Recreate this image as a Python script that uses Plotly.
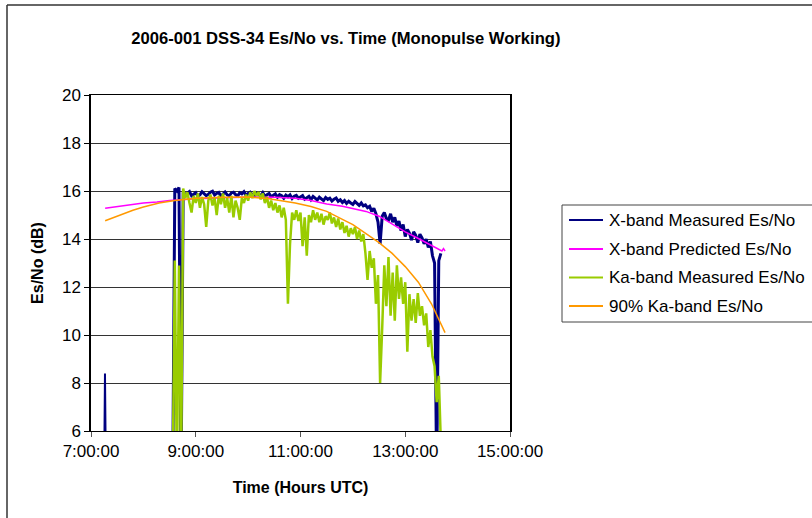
import plotly.graph_objects as go

# ---------------- data ----------------
tick_hours = [7, 9, 11, 13, 15]
tick_labels = ["7:00:00", "9:00:00", "11:00:00", "13:00:00", "15:00:00"]

series_names = ["X-band Measured Es/No", "X-band Predicted Es/No",
                "Ka-band Measured Es/No", "90% Ka-band Es/No"]
series_colors = ["#000080", "#FF00FF", "#99CC00", "#FF9900"]

# sample times (decimal hours UTC) for the measured series
meas_hours = [
    8.56, 8.60, 8.64, 8.68, 8.72, 8.76, 8.80, 8.84, 8.88, 8.92,
    8.96, 9.00, 9.04, 9.08, 9.12, 9.16, 9.20, 9.24, 9.28, 9.32,
    9.36, 9.40, 9.44, 9.48, 9.52, 9.56, 9.60, 9.64, 9.68, 9.72,
    9.76, 9.80, 9.84, 9.88, 9.92, 9.96, 10.00, 10.04, 10.08, 10.12,
    10.16, 10.20, 10.24, 10.28, 10.32, 10.36, 10.40, 10.44, 10.48, 10.52,
    10.56, 10.60, 10.64, 10.68, 10.72, 10.76, 10.80, 10.84, 10.88, 10.92,
    10.96, 11.00, 11.04, 11.08, 11.12, 11.16, 11.20, 11.24, 11.28, 11.32,
    11.36, 11.40, 11.44, 11.48, 11.52, 11.56, 11.60, 11.64, 11.68, 11.72,
    11.76, 11.80, 11.84, 11.88, 11.92, 11.96, 12.00, 12.04, 12.08, 12.12,
    12.16, 12.20, 12.24, 12.28, 12.32, 12.36, 12.40, 12.44, 12.48, 12.52,
    12.56, 12.60, 12.64, 12.68, 12.72, 12.76, 12.80, 12.84, 12.88, 12.92,
    12.96, 13.00, 13.04, 13.08, 13.12, 13.16, 13.20, 13.24, 13.28, 13.32,
    13.36, 13.40, 13.44, 13.48, 13.52, 13.56, 13.60, 13.64, 13.68,
]

xband_measured = [
    4.0, 16.1, 16.0, 16.15, 4.0, 15.95, 15.85, 15.9, 15.98, 15.8,
    15.88, 15.93, 15.79, 15.84, 15.97, 15.9, 15.81, 15.86, 15.95, 15.99,
    15.83, 15.9, 15.94, 15.78, 15.86, 15.96, 15.84, 15.8, 15.92, 15.95,
    15.85, 15.79, 15.93, 15.88, 15.97, 15.82, 15.9, 15.95, 15.84, 15.8,
    15.91, 15.86, 15.8, 15.93, 15.77, 15.85, 15.9, 15.76, 15.82, 15.88,
    15.74, 15.85, 15.8, 15.7, 15.83, 15.76, 15.84, 15.69, 15.78, 15.82,
    15.7, 15.75, 15.81, 15.66, 15.73, 15.78, 15.64, 15.77, 15.7, 15.62,
    15.74, 15.68, 15.6, 15.73, 15.65, 15.7, 15.58, 15.66, 15.71, 15.57,
    15.63, 15.52, 15.6, 15.48, 15.57, 15.5, 15.44, 15.56, 15.47, 15.4,
    15.5, 15.38, 15.42, 15.3, 15.36, 15.15, 15.28, 15.05, 14.7, 13.8,
    14.95, 15.1, 14.85, 14.78, 15.05, 14.7, 14.9, 14.55, 14.75, 14.35,
    14.6, 14.1, 14.4, 14.25, 13.95, 14.3, 14.15, 13.85, 14.2, 14.05,
    13.8, 14.0, 13.65, 13.9, 13.3, 13.0, 4.0, 13.1, 13.4,
]

# short early X-band spike
xband_blip_hours = [7.25, 7.267, 7.285]
xband_blip_db = [4.0, 8.4, 4.0]

kaband_measured = [
    4.0, 13.1, 4.0, 12.9, 4.0, 16.1, 15.7, 15.95, 15.5, 15.1,
    15.8, 15.5, 15.9, 15.3, 15.75, 15.45, 14.5, 15.6, 15.85, 15.4,
    15.7, 15.0, 15.8, 15.45, 15.9, 15.3, 15.7, 15.1, 15.8, 14.9,
    15.6, 15.3, 14.8, 15.7, 15.5, 15.85, 15.6, 15.95, 15.7, 16.0,
    15.8, 15.95, 15.65, 15.9, 15.5, 15.75, 15.3, 15.6, 15.2, 15.5,
    15.1, 15.4, 14.9, 15.3, 14.8, 11.3, 13.8, 15.1, 14.8, 15.2,
    14.75, 15.1, 13.7, 14.9, 13.3, 15.0, 14.7, 15.2, 14.8, 15.1,
    14.7, 15.05, 14.6, 14.95, 14.8, 15.1, 14.65, 14.9, 14.5, 14.85,
    14.4, 14.7, 14.25, 14.55, 14.1, 14.45, 14.2, 14.5, 14.0, 14.35,
    13.9, 14.2, 13.4, 12.3, 13.5, 12.8, 13.2, 11.3, 12.5, 8.0,
    10.3, 12.9, 11.2, 13.25, 10.8, 12.6, 10.6, 12.9, 11.5, 12.4,
    11.3, 12.2, 9.3, 11.7, 10.6, 11.5, 10.5, 11.75, 10.8, 11.2,
    10.4, 10.9, 9.5, 10.2, 9.1, 8.7, 7.2, 8.3, 5.5,
]

pred_hours = [7.27, 7.5, 7.8, 8.0, 8.26, 8.5, 9.0, 9.5, 10.0, 10.5, 10.9,
              11.2, 11.5, 11.8, 12.0, 12.25, 12.5, 12.75, 13.0, 13.25, 13.5,
              13.7, 13.73, 13.76]
xband_predicted = [15.28, 15.35, 15.45, 15.5, 15.54, 15.6, 15.68, 15.73, 15.75,
                   15.74, 15.7, 15.6, 15.46, 15.36, 15.28, 15.15, 14.95, 14.62,
                   14.3, 14.02, 13.72, 13.5, 13.6, 13.5]

ka90_hours = [7.27, 7.5, 7.8, 8.0, 8.3, 8.6, 9.0, 9.5, 10.0, 10.4, 10.9,
              11.2, 11.5, 11.8, 12.0, 12.25, 12.5, 12.75, 13.0, 13.25, 13.5, 13.76]
ka90_db = [14.76, 14.95, 15.2, 15.33, 15.5, 15.6, 15.7, 15.74, 15.75, 15.68, 15.5,
           15.35, 15.15, 14.82, 14.6, 14.22, 13.85, 13.4, 12.85, 12.2, 11.3, 10.1]

# ---------------- layout helpers ----------------
W, H = 812, 518
L, R, T, B = 91, 510, 95, 431          # plot-area pixel box


def px_x(px):
    return (px - L) / (R - L)


def px_y(py):
    return (B - py) / (B - T)


FONT = "Arial, 'Liberation Sans', sans-serif"
fig = go.Figure()

fig.add_trace(go.Scatter(x=meas_hours, y=xband_measured, mode="lines",
                         name=series_names[0],
                         line=dict(color=series_colors[0], width=3)))
fig.add_trace(go.Scatter(x=xband_blip_hours, y=xband_blip_db, mode="lines",
                         name=series_names[0],
                         line=dict(color=series_colors[0], width=2)))
fig.add_trace(go.Scatter(x=pred_hours, y=xband_predicted, mode="lines",
                         name=series_names[1],
                         line=dict(color=series_colors[1], width=1.5)))
fig.add_trace(go.Scatter(x=meas_hours, y=kaband_measured, mode="lines",
                         name=series_names[2],
                         line=dict(color=series_colors[2], width=2.5)))
fig.add_trace(go.Scatter(x=ka90_hours, y=ka90_db, mode="lines",
                         name=series_names[3],
                         line=dict(color=series_colors[3], width=1.5)))

border = dict(color="#333333", width=1.5)
shapes = [
    # outer chart border: top and left edges (right / bottom run off the image)
    dict(type="line", xref="paper", yref="paper", layer="above",
         x0=px_x(7), x1=px_x(W + 10), y0=px_y(5), y1=px_y(5), line=border),
    dict(type="line", xref="paper", yref="paper", layer="above",
         x0=px_x(7), x1=px_x(7), y0=px_y(5), y1=px_y(H + 10), line=border),
    # legend box (also runs off the right edge)
    dict(type="rect", xref="paper", yref="paper",
         x0=px_x(562), x1=px_x(835), y0=px_y(322), y1=px_y(205),
         line=dict(color="#444444", width=1), fillcolor="white"),
]
annotations = []
legend_rows = [220, 249, 277.5, 306]
for name, color, ry in zip(series_names, series_colors, legend_rows):
    shapes.append(dict(type="line", xref="paper", yref="paper",
                       x0=px_x(569), x1=px_x(603), y0=px_y(ry), y1=px_y(ry),
                       line=dict(color=color, width=2)))
    annotations.append(dict(text=name, xref="paper", yref="paper",
                            x=px_x(607), y=px_y(ry), xanchor="left",
                            yanchor="middle", showarrow=False,
                            font=dict(family=FONT, size=17, color="black")))

fig.update_layout(
    width=W, height=H,
    margin=dict(l=L, r=W - R, t=T, b=H - B),
    paper_bgcolor="white", plot_bgcolor="white",
    font=dict(family=FONT, size=17, color="black"),
    title=dict(text="<b>2006-001 DSS-34 Es/No vs. Time (Monopulse Working)</b>",
               x=0.426, xanchor="center", y=1 - 38 / H, yanchor="middle",
               font=dict(family=FONT, size=16.6, color="black")),
    showlegend=False,
    shapes=shapes,
    annotations=annotations,
)

fig.update_xaxes(range=[7, 15], tickvals=tick_hours, ticktext=tick_labels,
                 showgrid=False, zeroline=False, automargin=False,
                 showline=True, linecolor="black", linewidth=1, mirror=True,
                 ticks="outside", ticklen=5, tickcolor="#555555",
                 tickfont=dict(family=FONT, size=17),
                 title=dict(text="<b>Time (Hours UTC)</b>", standoff=21,
                            font=dict(family=FONT, size=16)))
fig.update_yaxes(range=[6, 20], dtick=2, tick0=6,
                 showgrid=True, gridcolor="#333333", gridwidth=1, zeroline=False,
                 automargin=False,
                 showline=True, linecolor="black", linewidth=1.5, mirror=True,
                 ticks="outside", ticklen=5, tickcolor="black",
                 tickfont=dict(family=FONT, size=17),
                 title=dict(text="<b>Es/No (dB)</b>", standoff=14,
                            font=dict(family=FONT, size=16)))

fig.write_html("out.html",
               config={"displayModeBar": False},
               post_script="document.body.style.margin='0';"
                           "document.body.style.overflow='hidden';")
